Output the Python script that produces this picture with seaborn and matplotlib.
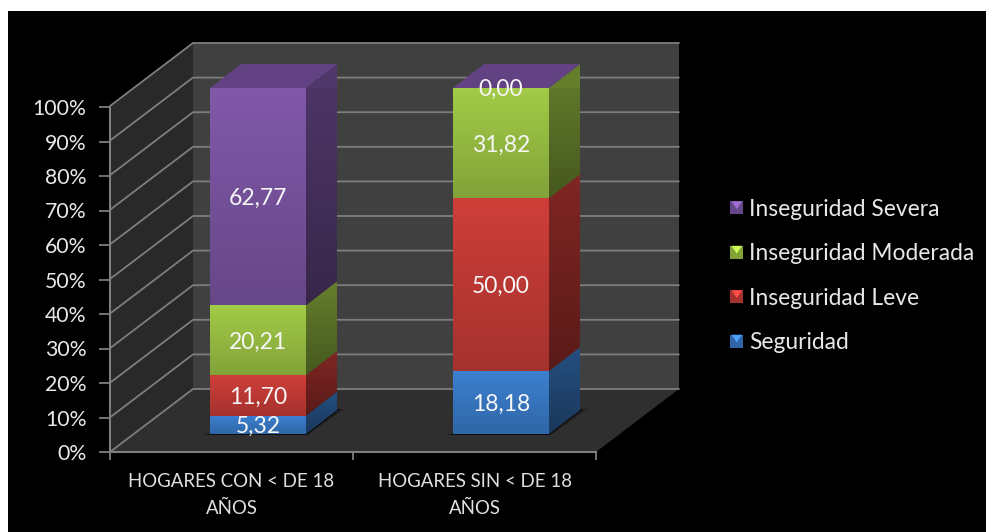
import numpy as np
import pandas as pd
import matplotlib
matplotlib.use("Agg")
import matplotlib.pyplot as plt
from matplotlib.patches import Polygon, Rectangle
from matplotlib.legend_handler import HandlerBase
from matplotlib.colors import to_rgb
import seaborn as sns

categories = ["HOGARES CON < DE 18\nAÑOS", "HOGARES SIN < DE 18\nAÑOS"]
seguridad = [5.32, 18.18]
leve = [11.70, 50.00]
moderada = [20.21, 31.82]
severa = [62.77, 0.00]
series_names = ["Seguridad", "Inseguridad Leve", "Inseguridad Moderada", "Inseguridad Severa"]
series_colors = ["#3C80D0", "#CE3E39", "#A2CB47", "#8059A9"]
y_ticks = list(range(0, 101, 10))

W, H = 986, 532
sns.set_theme(style="white")
plt.rcParams["font.family"] = ["Lato", "DejaVu Sans"]
fig = plt.figure(figsize=(W / 100, H / 100), dpi=100, facecolor="white")

def px_axes(l, t, r, b, **kw):
    return fig.add_axes([l / W, 1 - b / H, (r - l) / W, (b - t) / H], **kw)

# black chart background
bg = px_axes(8, 11, 986, 532)
bg.set_axis_off()
bg.add_patch(Rectangle((0, 0), 1, 1, transform=bg.transAxes, color="black"))

# main axes: its data plane is the front face of the bars
L, R, T, B = 136.5, 622.5, 88.0, 434.0
ax = px_axes(L, T, R, B)
ax.set_axis_off()
XPX = (R - L) / 2.0
YPX = (B - T) / 100.0
def dx(p): return p / XPX
def dy(p): return p / YPX

X0, X1 = -0.5, 1.5
# plane offsets relative to the bar plane (pixels: right, up)
front = (dx(110 - L), dy(B - 452))
back = (dx(193 - L), dy(B - 389))
depth = (dx(31), dy(24))

GRID = "#7E7E7E"
def P(pts, **kw):
    p = Polygon(pts, closed=True, clip_on=False, linewidth=0, **kw)
    ax.add_patch(p)
    return p

# walls and floor
P([(X0 + back[0], back[1]), (X1 + back[0], back[1]), (X1 + back[0], 100 + back[1]), (X0 + back[0], 100 + back[1])],
  facecolor="#404040", zorder=1)
P([(X0 + front[0], front[1]), (X0 + back[0], back[1]), (X0 + back[0], 100 + back[1]), (X0 + front[0], 100 + front[1])],
  facecolor="#292929", zorder=1)
P([(X0 + front[0], front[1]), (X1 + front[0], front[1]), (X1 + back[0], back[1]), (X0 + back[0], back[1])],
  facecolor="#2F2F2F", zorder=1)
for t in y_ticks:
    ax.plot([X0 + front[0], X0 + back[0], X1 + back[0]], [t + front[1], t + back[1], t + back[1]],
            color=GRID, lw=1.3, clip_on=False, zorder=2, solid_joinstyle="miter")

# stacked front faces drawn by seaborn
values = [seguridad, leve, moderada, severa]
bottoms = np.zeros(2)
bar_w = 96.0 / XPX
for vals, col in zip(values, series_colors):
    sns.barplot(x=categories, y=vals, bottom=bottoms, color=col, saturation=1, width=bar_w,
                ax=ax, zorder=5, linewidth=0, legend=False)
    bottoms = bottoms + np.array(vals)
ax.set_xlim(X0, X1)
ax.set_ylim(0, 100)

def shade(patch, a_top, a_bot, zorder):
    (x0, y0), (x1, y1) = ax.transData.inverted().transform(patch.get_window_extent(fig.canvas.get_renderer()))
    grad = np.zeros((64, 2, 4))
    grad[..., 3] = np.linspace(a_top, a_bot, 64)[:, None]
    im = ax.imshow(grad, extent=(x0, x1, y0, y1), origin="upper", aspect="auto", zorder=zorder, clip_on=True)
    im.set_clip_path(patch)

def darker(c, f):
    return tuple(v * f for v in to_rgb(c))

containers = list(ax.containers)
for i, (cont, col) in enumerate(zip(containers, series_colors)):
    for bar in cont:
        x0, w, y0, h = bar.get_x(), bar.get_width(), bar.get_y(), bar.get_height()
        x1 = x0 + w
        # floor shadow
        if i == 0:
            for grow, a in ((8, .2), (5, .3), (2, .45)):
                P([(x0 - dx(grow), y0 - dy(1)), (x1 + dx(1), y0 - dy(1)),
                   (x1 + depth[0] + dx(grow), y0 + depth[1] + dy(1)), (x1, y0 + depth[1] + dy(1))],
                  facecolor=(0, 0, 0, a), zorder=3)
        if h > 0:
            side = P([(x1, y0), (x1, y0 + h), (x1 + depth[0], y0 + h + depth[1]), (x1 + depth[0], y0 + depth[1])],
                     facecolor=darker(col, 0.62), zorder=4)
            shade(bar, 0.0, 0.2, 6)
            shade(side, 0.0, 0.3, 4.5)
# top face (the last series closes each column)
for bar in containers[-1]:
    x0, x1, top = bar.get_x(), bar.get_x() + bar.get_width(), bar.get_y() + bar.get_height()
    P([(x0, top), (x1, top), (x1 + depth[0], top + depth[1]), (x0 + depth[0], top + depth[1])],
      facecolor="#634283", zorder=4)

# labels
for cont, vals in zip(containers, values):
    texts = ax.bar_label(cont, labels=[f"{v:.2f}".replace(".", ",") for v in vals], label_type="center",
                         color="#F6F6F6", fontsize=16.5, zorder=9)
    for t in texts:
        t.xyann = (0, -1.3)
ax.set_xlim(X0, X1)
ax.set_ylim(0, 100)

# axis lines and tick labels on the front plane
axt = px_axes(110, 107, 596, 452)
axt.patch.set_alpha(0)
axt.set_xlim(X0, X1)
axt.set_ylim(0, 100)
axt.set_yticks(y_ticks)
axt.set_yticklabels([f"{t}%" for t in y_ticks])
axt.set_xticks([0, 1])
axt.set_xticklabels(categories, linespacing=1.75)
axt.set_xticks([-0.5, 0.5, 1.5], minor=True)
axt.tick_params(axis="y", left=True, length=8, width=1.3, color=GRID, labelcolor="#E8E8E8", labelsize=15.3, pad=9)
axt.tick_params(axis="x", which="major", length=0, labelcolor="#E0E0E0", labelsize=13.4, pad=15)
axt.tick_params(axis="x", which="minor", bottom=True, length=6, width=1.3, color=GRID)
for s in ("top", "right"):
    axt.spines[s].set_visible(False)
for s in ("left", "bottom"):
    axt.spines[s].set_color(GRID)
    axt.spines[s].set_linewidth(1.5)

# legend with pyramid style swatches
class Swatch(HandlerBase):
    def create_artists(self, legend, orig, xd, yd, width, height, fontsize, trans):
        col = orig.get_facecolor()
        s = 13 * 0.72
        x, y = width - s, (height - s) / 2
        base = Rectangle((x, y), s, s, facecolor=darker(col, 0.8), edgecolor="none", transform=trans)
        tri = Polygon([(x + s * .1, y + s), (x + s * .9, y + s), (x + s / 2, y + s * .4)], closed=True,
                      facecolor=tuple(min(1, v * 1.25) for v in to_rgb(col)), edgecolor="none", transform=trans)
        return [base, tri]

handles = [Rectangle((0, 0), 1, 1, facecolor=c) for c in series_colors][::-1]
leg = fig.legend(handles, series_names[::-1], handler_map={Rectangle: Swatch()}, frameon=False,
                 loc="center left", bbox_to_anchor=(720.5 / W, 1 - 276 / H), fontsize=16.4, labelcolor="#E8E8E8",
                 labelspacing=1.03, handlelength=1.0, handletextpad=0.25, borderpad=0, borderaxespad=0)

fig.savefig("out.png", dpi=100, facecolor="white")
